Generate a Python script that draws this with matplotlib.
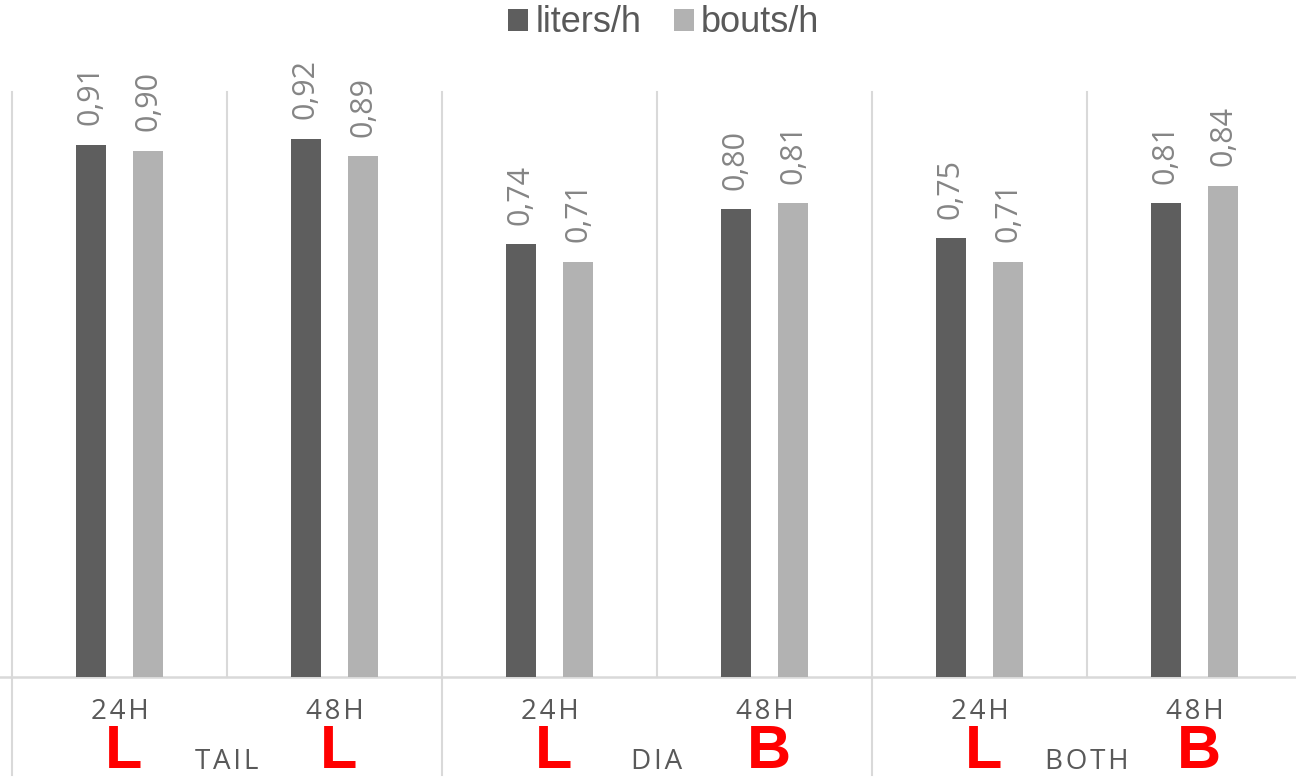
import matplotlib
matplotlib.use("Agg")
import matplotlib.pyplot as plt
from matplotlib.patches import Patch

# Correlation values per condition (liters/h vs bouts/h)
groups = ["TAIL", "DIA", "BOTH"]
times = ["24H", "48H", "24H", "48H", "24H", "48H"]
liters_h = [0.91, 0.92, 0.74, 0.80, 0.75, 0.81]
bouts_h = [0.90, 0.89, 0.71, 0.81, 0.71, 0.84]
best = ["L", "L", "L", "B", "L", "B"]
series_names = ["liters/h", "bouts/h"]

DARK = "#5e5e5e"
LIGHT = "#b2b2b2"
GRID = "#d9d9d9"
FONT = ["Open Sans", "DejaVu Sans"]

W, H = 1296, 781
fig = plt.figure(figsize=(W / 100, H / 100), dpi=100)
ax = fig.add_axes([12 / W, 104 / H, 1290 / W, 585 / H])

n = len(times)
centers = [i + 0.5 for i in range(n)]
bar_w = 0.135
off = 0.1326

ax.bar([c - off for c in centers], liters_h, width=bar_w, color=DARK, zorder=3)
ax.bar([c + off for c in centers], bouts_h, width=bar_w, color=LIGHT, zorder=3)

# value labels above each bar, rotated
for c, v1, v2 in zip(centers, liters_h, bouts_h):
    for x, v in ((c - off, v1), (c + off, v2)):
        ax.text(x, v + 0.033, f"{v:.2f}".replace(".", ","), rotation=90,
                ha="center", va="bottom", fontsize=22, color="#858585",
                family=FONT)

ax.set_xlim(0, n)
ax.set_ylim(0, 1)
ax.axis("off")

# category separators; group boundaries run down through the label area
for k in range(n + 1):
    ymin = -0.1675 if k % 2 == 0 else 0
    ax.plot([k, k], [ymin, 1], color=GRID, lw=1.5, clip_on=False, zorder=1)
ax.plot([-0.06, n], [0, 0], color=GRID, lw=1.8, clip_on=False, zorder=2)

hair = "\u200a"
for c, t, b in zip(centers, times, best):
    ax.text(c, -0.072, hair.join(t), ha="center", va="baseline", fontsize=20,
            color="#595959", family=FONT)
    ax.text(c + 0.02, -0.1556, b, ha="center", va="baseline", fontsize=44,
            color="#ff0000", fontweight="bold", family="Liberation Sans")

for g, name in enumerate(groups):
    ax.text(2 * g + 1, -0.157, hair.join(name), ha="center", va="baseline",
            fontsize=20, color="#595959", family=FONT)

handles = [Patch(facecolor=DARK, edgecolor="none"),
           Patch(facecolor=LIGHT, edgecolor="none")]
fig.legend(handles, series_names, loc="center", ncol=2,
           bbox_to_anchor=(664 / W, 1 - 23 / H), frameon=False,
           prop={"family": "Liberation Sans", "size": 26},
           labelcolor="#595959", handlelength=0.55, handleheight=0.55,
           handletextpad=0.2, columnspacing=0.9, borderpad=0)

fig.savefig("out.png", dpi=100, facecolor="white")
